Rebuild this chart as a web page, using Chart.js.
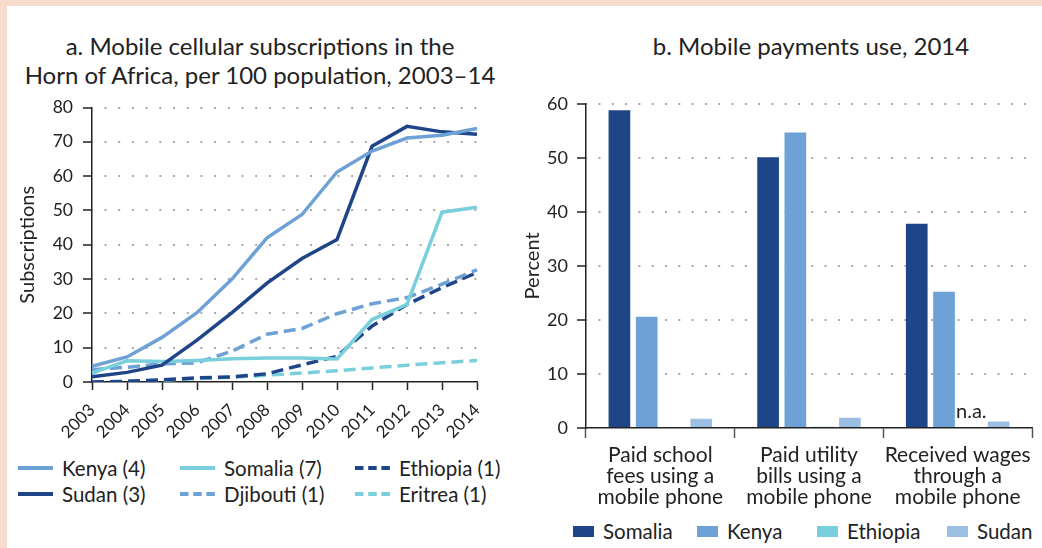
<!DOCTYPE html>
<html>
<head>
<meta charset="utf-8">
<script src="https://cdn.jsdelivr.net/npm/chart.js@4.4.1/dist/chart.umd.min.js"></script>
<style>
  body { margin: 0; width: 1042px; height: 548px; overflow: hidden; background: #f7dbcd; font-family: Lato, sans-serif; color: #222; }
  #panel { position: absolute; left: 7px; top: 6px; width: 1035px; height: 542px; background: #fff; }
  .title { position: absolute; text-align: center; font-size: 24px; line-height: 29px; }
  canvas { position: absolute; }
  .lg-item { position: absolute; height: 26px; display: flex; align-items: center; font-size: 20.5px; white-space: nowrap; }
  .lg-item svg { margin-right: 9px; }
  .lg-box { width: 21px; height: 11px; margin-right: 9px; }
</style>
</head>
<body>
<div id="panel"></div>
<div class="title" style="left:7px; top:31px; width:506px;">a. Mobile cellular subscriptions in the<br>Horn of Africa, per 100 population, 2003–14</div>
<div class="title" style="left:611px; top:31px; width:400px;">b. Mobile payments use, 2014</div>
<canvas id="subsChart" width="500" height="359" style="left:7px; top:87px;"></canvas>
<canvas id="payChart" width="529" height="428" style="left:513px; top:84px;"></canvas>
<div id="subsLegend"></div>
<div id="payLegend"></div>
<script>
// panel a: subscriptions per 100 people
const years = ['2003', '2004', '2005', '2006', '2007', '2008', '2009', '2010', '2011', '2012', '2013', '2014'];
const seriesNames = ['Kenya (4)', 'Sudan (3)', 'Somalia (7)', 'Djibouti (1)', 'Ethiopia (1)', 'Eritrea (1)'];
const kenya = [4.6, 7.3, 13.0, 20.2, 30.0, 42.0, 48.8, 61.2, 67.3, 71.1, 71.9, 73.9];
const sudan = [1.5, 2.8, 4.9, 12.2, 20.2, 28.8, 36.0, 41.5, 68.7, 74.5, 72.9, 72.2];
const somalia = [2.6, 6.2, 6.0, 6.3, 6.8, 7.0, 7.0, 6.7, 18.2, 22.6, 49.5, 50.9];
const djibouti = [3.6, 4.3, 5.3, 5.6, 9.0, 13.9, 15.6, 19.9, 22.8, 24.6, 28.5, 32.7];
const ethiopia = [0.0, 0.2, 0.6, 1.2, 1.5, 2.4, 5.0, 7.5, 16.3, 22.6, 27.5, 31.9];
const eritrea = [0.0, 0.2, 0.5, 1.0, 1.4, 2.0, 2.6, 3.3, 4.1, 4.9, 5.6, 6.3];

// panel b: mobile payments use
const paymentUses = [['Paid school', 'fees using a', 'mobile phone'], ['Paid utility', 'bills using a', 'mobile phone'], ['Received wages', 'through a', 'mobile phone']];
const payCountries = ['Somalia', 'Kenya', 'Ethiopia', 'Sudan'];
const paySomalia = [58.8, 50.1, 37.8];
const payKenya = [20.6, 54.7, 25.2];
const payEthiopia = [0, 0.25, null];
const paySudan = [1.7, 1.9, 1.2];

const navy = '#1f4589';
const midBlue = '#6ea1d5';
const cyan = '#79cfdb';
const paleBlue = '#9dbfe4';
const ink = '#222';
const dotGrey = '#a9a9a9';

Chart.defaults.font.family = 'Lato';
Chart.defaults.color = ink;

function lineSet(label, data, color, dashed) {
    return {
        label: label,
        data: data,
        borderColor: color,
        backgroundColor: color,
        borderWidth: 3.5,
        borderDash: dashed ? [12, 6] : [],
        pointRadius: 0,
        tension: 0,
        fill: false,
    };
}

const subsChart = new Chart(document.getElementById('subsChart'), {
    type: 'line',
    data: {
        labels: years,
        datasets: [
            lineSet(seriesNames[0], kenya, midBlue, false),
            lineSet(seriesNames[1], sudan, navy, false),
            lineSet(seriesNames[2], somalia, cyan, false),
            lineSet(seriesNames[3], djibouti, midBlue, true),
            lineSet(seriesNames[4], ethiopia, navy, true),
            lineSet(seriesNames[5], eritrea, cyan, true),
        ]
    },
    options: {
        responsive: false,
        animation: false,
        layout: { padding: { top: 4, right: 30, left: 0, bottom: 0 } },
        plugins: { legend: { display: false }, tooltip: { enabled: false } },
        scales: {
            x: {
                grid: { drawOnChartArea: false, tickLength: 8, tickColor: ink, tickWidth: 1.5 },
                border: { color: ink, width: 1.5 },
                ticks: { minRotation: 45, maxRotation: 45, autoSkip: false, font: { size: 17 }, padding: 10 },
                afterFit(scale) { scale.height = 64; }
            },
            y: {
                min: 0,
                max: 80,
                ticks: { stepSize: 10, font: { size: 17.5 }, padding: 10 },
                grid: {
                    color: ctx => ctx.tick && ctx.tick.value === 0 ? 'rgba(0,0,0,0)' : dotGrey,
                    lineWidth: 2,
                    tickColor: ink,
                    tickLength: 9,
                    tickWidth: 1.5
                },
                border: { color: ink, width: 1.5, dash: [2, 11.7], dashOffset: 1.7 },
                title: { display: true, text: 'Subscriptions', font: { size: 20 }, padding: { top: 9, bottom: 0 } },
                afterFit(scale) { scale.width = 85; }
            }
        }
    }
});

// "n.a." where a value is missing
const naLabels = {
    id: 'naLabels',
    afterDatasetsDraw(chart) {
        const ctx = chart.ctx;
        const zeroY = chart.scales.y.getPixelForValue(0);
        chart.data.datasets.forEach((ds, di) => {
            const meta = chart.getDatasetMeta(di);
            ds.data.forEach((v, i) => {
                if (v !== null) return;
                ctx.save();
                ctx.font = '20px Lato';
                ctx.fillStyle = ink;
                ctx.textAlign = 'center';
                ctx.fillText('n.a.', meta.data[i].x, zeroY - 10);
                ctx.restore();
            });
        });
    }
};

const payColors = [navy, midBlue, cyan, paleBlue];
const payValues = [paySomalia, payKenya, payEthiopia, paySudan];

const payChart = new Chart(document.getElementById('payChart'), {
    type: 'bar',
    data: {
        labels: paymentUses,
        datasets: payCountries.map((name, i) => ({
            label: name,
            data: payValues[i],
            backgroundColor: payColors[i],
            borderWidth: 0,
            categoryPercentage: 0.734,
            barPercentage: 0.795,
        }))
    },
    options: {
        responsive: false,
        animation: false,
        layout: { padding: { top: 4, right: 10, left: 0, bottom: 0 } },
        plugins: { legend: { display: false }, tooltip: { enabled: false } },
        scales: {
            x: {
                grid: { offset: true, drawOnChartArea: false, tickLength: 10, tickColor: '#555', tickWidth: 1.5 },
                border: { color: ink, width: 1.5 },
                ticks: { minRotation: 0, maxRotation: 0, autoSkip: false, font: { size: 21, lineHeight: 1.0 }, padding: 7 },
                afterFit(scale) { scale.height = 84; }
            },
            y: {
                min: 0,
                max: 60,
                ticks: { stepSize: 10, font: { size: 18 }, padding: 9 },
                grid: {
                    color: ctx => ctx.tick && ctx.tick.value === 0 ? 'rgba(0,0,0,0)' : dotGrey,
                    lineWidth: 2,
                    tickColor: ink,
                    tickLength: 9,
                    tickWidth: 1.5
                },
                border: { color: ink, width: 1.5, dash: [2, 11.3], dashOffset: 1.3 },
                title: { display: true, text: 'Percent', font: { size: 20 }, padding: { top: 8, bottom: 0 } },
                afterFit(scale) { scale.width = 73; }
            }
        }
    },
    plugins: [naLabels]
});

// legends built from the chart datasets
function lineMarker(color, dash) {
    const ns = 'http://www.w3.org/2000/svg';
    const svg = document.createElementNS(ns, 'svg');
    svg.setAttribute('width', '35');
    svg.setAttribute('height', '8');
    const ln = document.createElementNS(ns, 'line');
    ln.setAttribute('x1', '0');
    ln.setAttribute('x2', '35');
    ln.setAttribute('y1', '4');
    ln.setAttribute('y2', '4');
    ln.setAttribute('stroke', color);
    ln.setAttribute('stroke-width', '4');
    if (dash.length) ln.setAttribute('stroke-dasharray', '8.5 4.7');
    svg.appendChild(ln);
    return svg;
}

const subsCols = [18, 180, 355];
const subsRows = [468, 494];
subsChart.data.datasets.forEach((ds, i) => {
    const el = document.createElement('div');
    el.className = 'lg-item';
    el.style.left = subsCols[Math.floor(i / 2)] + 'px';
    el.style.top = (subsRows[i % 2] - 13) + 'px';
    el.appendChild(lineMarker(ds.borderColor, ds.borderDash));
    el.appendChild(document.createTextNode(ds.label));
    document.getElementById('subsLegend').appendChild(el);
});

const payCols = [573, 697, 817, 947];
payChart.data.datasets.forEach((ds, i) => {
    const el = document.createElement('div');
    el.className = 'lg-item';
    el.style.left = payCols[i] + 'px';
    el.style.top = (531 - 13) + 'px';
    const box = document.createElement('span');
    box.className = 'lg-box';
    box.style.background = ds.backgroundColor;
    el.appendChild(box);
    el.appendChild(document.createTextNode(ds.label));
    document.getElementById('payLegend').appendChild(el);
});
</script>
</body>
</html>
